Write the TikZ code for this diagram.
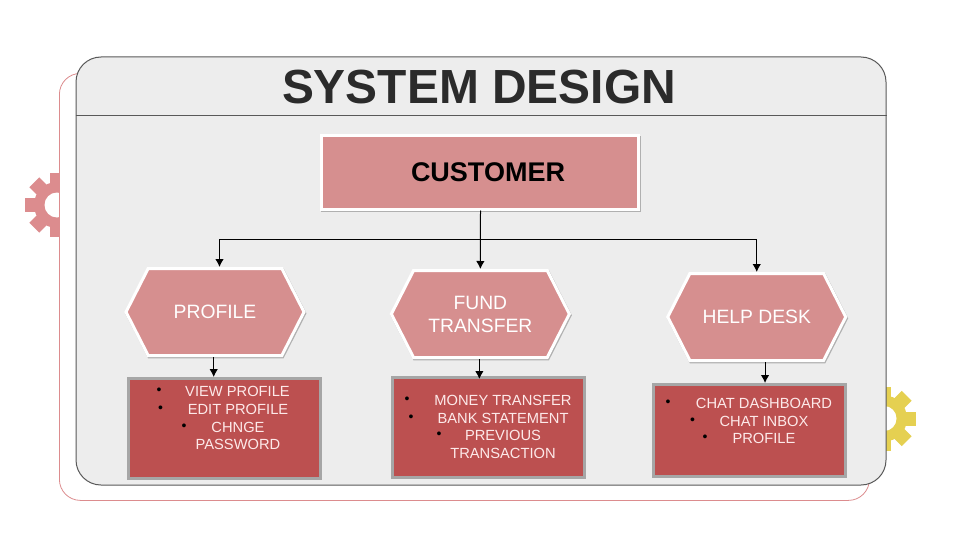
\documentclass[tikz,border=0pt]{standalone}
\usepackage{fontspec}
\setmainfont{Liberation Sans}
\usepackage{tikz}
\usetikzlibrary{positioning,calc,arrows.meta,shapes.symbols,shadows}
\definecolor{rosefill}{HTML}{D68F8F}
\definecolor{brick}{HTML}{BC5050}
\definecolor{panelgrey}{HTML}{EDEDED}
\definecolor{rimgrey}{HTML}{595959}
\definecolor{boxrim}{HTML}{A6A6A6}
\definecolor{rosepale}{HTML}{FDE9E9}
\definecolor{rosegear}{HTML}{DC8C8E}
\definecolor{goldgear}{HTML}{E5D051}
\definecolor{titleink}{HTML}{2B2B2B}

\newcommand{\gearat}[3]{%
  \fill[#3] (#1,#2) circle[radius=23pt];
  \foreach \ang in {0,45,...,315}
    \fill[#3,shift={(#1,#2)},rotate=\ang] (18pt,-7pt) rectangle (32pt,7pt);
  \fill[white] (#1,#2) circle[radius=12.5pt];
}

\begin{document}
\begin{tikzpicture}[x=1pt,y=-1pt,edge/.style = {-{Latex[length=8pt,width=8.5pt]},line width=1pt,black},
softshadow/.style={drop shadow={opacity=.45,draw=black!60,fill=black!60,line width=3pt,shadow xshift=.8pt,shadow yshift=-1.3pt}},
hexa/.style={signal,signal to=west and east,signal pointer angle=126,draw=white,line width=3pt,fill=rosefill,
  minimum width=178pt,minimum height=87pt,inner sep=0pt,text=white,align=center,
  font=\fontsize{19.3}{23}\selectfont,softshadow},
listbox/.style={rectangle,draw=boxrim,line width=3pt,fill=brick,minimum width=192pt,minimum height=100pt},
item/.style={text=rosepale,inner sep=0pt,font=\fontsize{14.7}{17}\selectfont},
dot/.style={text=black,inner sep=0pt,font=\fontsize{14}{16}\selectfont}]
\useasboundingbox (0,0) rectangle (960,540);

% gears
\gearat{57}{205}{rosegear}
\gearat{884}{418.5}{goldgear}

% panels
\node[rectangle,draw=rosegear,line width=.8pt,fill=white,rounded corners=21pt,minimum width=810pt,minimum height=427pt,anchor=north west](backing) at (59,73){};
\node[rectangle,draw=rimgrey,line width=1pt,fill=panelgrey,rounded corners=25pt,minimum width=810pt,minimum height=428pt,anchor=north west](panel) at (75.5,56.5){};
\draw[rimgrey,line width=1pt] ([yshift=-59pt]panel.north west) -- ([yshift=-59pt]panel.north east);
\node[text=titleink,inner sep=0pt,font=\fontsize{47.9}{50}\selectfont\bfseries](title) at (479,87){SYSTEM DESIGN};

% nodes
\node[rectangle,draw=white,line width=3pt,fill=rosefill,minimum width=317pt,minimum height=73pt,softshadow,font=\fontsize{27}{30}\selectfont\bfseries](customer) at (480,172.5){\hspace{16pt}CUSTOMER};

\node[hexa](profile) at (215,312){PROFILE};
\node[hexa,right=84pt of profile,yshift=-2pt](fund){FUND\\TRANSFER};
\node[hexa,right=95pt of fund,yshift=-3pt](help){HELP DESK};

\node[listbox,below=20pt of profile,xshift=9.5pt](profilelist){};
\node[listbox,below=17pt of fund,xshift=8pt](fundlist){};
\node[listbox,below=21pt of help,xshift=-7.5pt,minimum height=92pt](helplist){};

% profile list
\node[item](pa) at (237.5,391.5){VIEW PROFILE};
\node[item](pb) at (238,409.5){EDIT PROFILE};
\node[item](pc) at (238,427){CHNGE};
\node[item](pd) at (238,444.5){PASSWORD};
\node[dot](pe) at (159,391){•};
\node[dot](pf) at (160.5,409){•};
\node[dot](pg) at (184,427){•};

% fund list
\node[item](fa) at (503,400.5){MONEY TRANSFER};
\node[item](fb) at (503,418.5){BANK STATEMENT};
\node[item](fc) at (503,435.5){PREVIOUS};
\node[item](fd) at (503,453.5){TRANSACTION};
\node[dot](fe) at (407,400){•};
\node[dot](ff) at (411,418){•};
\node[dot](fg) at (439,435){•};

% help list
\node[item](ha) at (764,403.5){CHAT DASHBOARD};
\node[item](hb) at (764,421.5){CHAT INBOX};
\node[item](hc) at (764,438.5){PROFILE};
\node[dot](hd) at (668,403){•};
\node[dot](he) at (692.5,421){•};
\node[dot](hf) at (705,438){•};

% connectors
\coordinate (bus) at (480.5,239.5);
\draw[edge] ([xshift=.5pt]customer.south) -- (fund.north);
\draw[edge] (bus) -| ([xshift=4.5pt]profile.north);
\draw[edge] (bus) -| (help.north);
\draw[edge] ([xshift=-1.3pt]profile.south) -- ([xshift=-10.8pt]profilelist.north);
\draw[edge] ([xshift=-1pt]fund.south) -- ([yshift=-3pt,xshift=-9pt]fundlist.north);
\draw[edge] ([xshift=8.3pt]help.south) -- ([xshift=15.8pt]helplist.north);
\end{tikzpicture}
\end{document}
